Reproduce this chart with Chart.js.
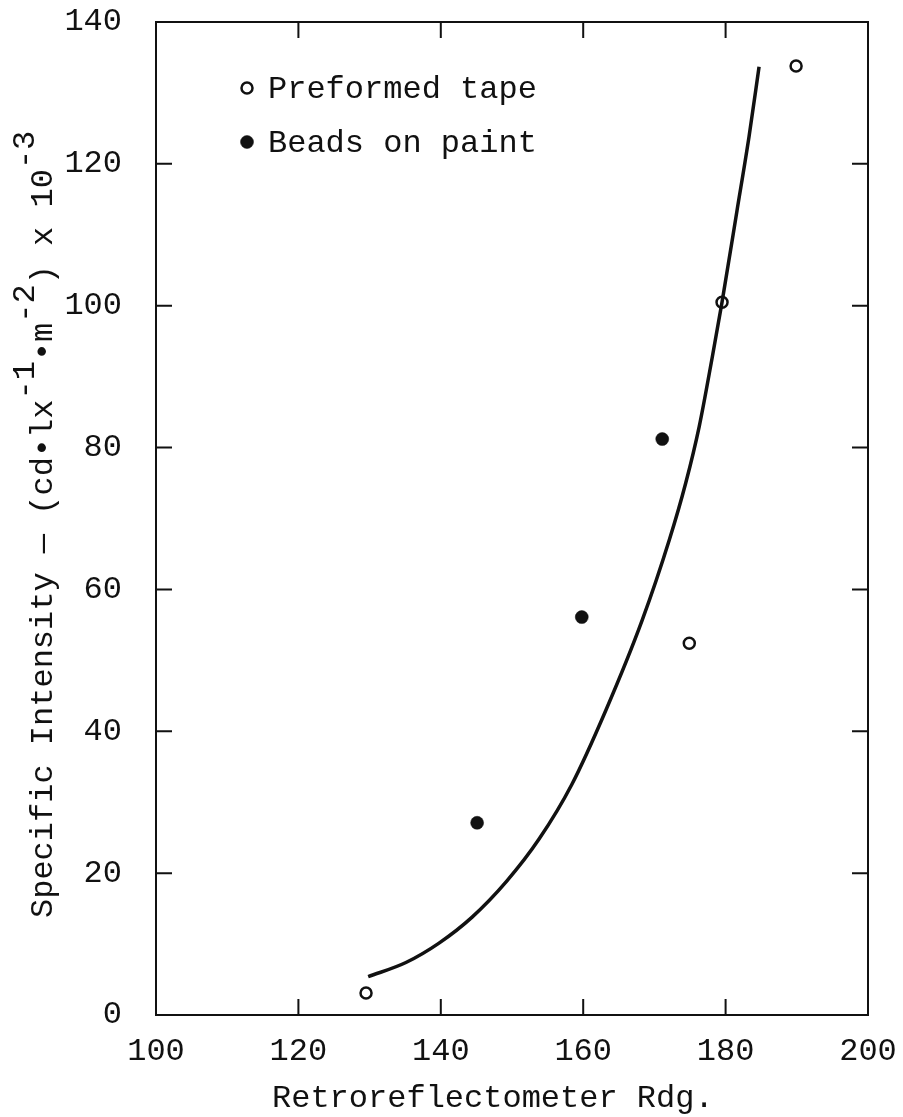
<!DOCTYPE html>
<html>
<head>
<meta charset="utf-8">
<script src="https://cdn.jsdelivr.net/npm/chart.js@4.4.1/dist/chart.umd.min.js"></script>
<style>
  body { margin: 0; background: #fff; }
  canvas { display: block; }
</style>
</head>
<body>
<canvas id="retroChart" width="903" height="1117"></canvas>
<script>
// values
var tapeX = [129.5, 174.9, 179.5, 189.9];
var tapeY = [3.1, 52.4, 100.5, 133.8];
var beadsX = [145.1, 159.8, 171.1];
var beadsY = [27.1, 56.1, 81.2];
var curveX = [129.8, 135.1, 139.7, 144.4, 149.2, 153.8, 158.4, 163.2, 168.3, 172.1, 174.4, 176.3, 178.1, 179.5, 181.6, 183.3, 184.7];
var curveY = [5.4, 7.4, 10.1, 13.8, 18.8, 24.8, 32.5, 43.0, 55.7, 67.0, 75.0, 83.0, 92.6, 100.5, 113.4, 123.9, 133.7];
var xTicks = [100, 120, 140, 160, 180, 200];
var yTicks = [0, 20, 40, 60, 80, 100, 120, 140];
var seriesNames = ["Preformed tape", "Beads on paint"];
var xTitle = "Retroreflectometer Rdg.";
// [text, isSuperscript]
var yTitleParts = [
    ["Specific Intensity \u2014 (cd\u2022lx", false], ["-1", true],
    ["\u2022m", false], ["-2", true],
    [") x 10", false], ["-3", true]
];

var FAMILY = "'Liberation Mono', 'Courier New', monospace";
var FONT = "32px " + FAMILY;
var INK = "#111";

function pairs(xs, ys) {
    return xs.map(function (x, i) { return { x: x, y: ys[i] }; });
}

// box round the plot with short inward ticks on all four sides
var framePlugin = {
    id: "frame",
    beforeDatasetsDraw: function (chart) {
        var ctx = chart.ctx, a = chart.chartArea;
        var xs = chart.scales.x, ys = chart.scales.y;
        var len = 16;
        ctx.save();
        ctx.strokeStyle = INK;
        ctx.lineWidth = 2;
        ctx.strokeRect(a.left, a.top, a.right - a.left, a.bottom - a.top);
        ctx.beginPath();
        xTicks.slice(1, -1).forEach(function (v) {
            var px = xs.getPixelForValue(v);
            ctx.moveTo(px, a.bottom); ctx.lineTo(px, a.bottom - len);
            ctx.moveTo(px, a.top); ctx.lineTo(px, a.top + len);
        });
        yTicks.slice(1, -1).forEach(function (v) {
            var py = ys.getPixelForValue(v);
            ctx.moveTo(a.left, py); ctx.lineTo(a.left + len, py);
            ctx.moveTo(a.right, py); ctx.lineTo(a.right - len, py);
        });
        ctx.stroke();
        ctx.restore();
    }
};

// axis titles (y one has raised exponents) and the boxed-in legend
var textPlugin = {
    id: "typedText",
    afterDraw: function (chart) {
        var ctx = chart.ctx;
        ctx.save();
        ctx.fillStyle = INK;
        ctx.font = FONT;
        ctx.textBaseline = "alphabetic";
        ctx.textAlign = "left";

        ctx.fillText(xTitle, 272, 1107);

        ctx.save();
        ctx.translate(52, 918);
        ctx.rotate(-Math.PI / 2);
        var pos = 0;
        yTitleParts.forEach(function (p) {
            ctx.fillText(p[0], pos, p[1] ? -18 : 0);
            pos += ctx.measureText(p[0]).width;
        });
        ctx.restore();

        var rows = [98, 152];
        chart.data.datasets.slice(1).forEach(function (ds, i) {
            var cy = rows[i] - 10;
            ctx.beginPath();
            ctx.arc(247, cy, ds.pointRadius, 0, Math.PI * 2);
            ctx.fillStyle = ds.pointBackgroundColor;
            ctx.fill();
            ctx.lineWidth = ds.pointBorderWidth;
            ctx.strokeStyle = ds.pointBorderColor;
            ctx.stroke();
            ctx.fillStyle = INK;
            ctx.fillText(ds.label, 268, rows[i]);
        });
        ctx.restore();
    }
};

var ctx = document.getElementById("retroChart").getContext("2d");
new Chart(ctx, {
    type: "scatter",
    data: {
        datasets: [
            {
                label: "fit",
                data: pairs(curveX, curveY),
                showLine: true,
                borderColor: INK,
                borderWidth: 3.5,
                cubicInterpolationMode: "monotone",
                pointRadius: 0,
                fill: false
            },
            {
                label: seriesNames[0],
                data: pairs(tapeX, tapeY),
                pointRadius: 5.5,
                pointBorderWidth: 2.5,
                pointBorderColor: INK,
                pointBackgroundColor: "#fff"
            },
            {
                label: seriesNames[1],
                data: pairs(beadsX, beadsY),
                pointRadius: 6.5,
                pointBorderWidth: 0.5,
                pointBorderColor: INK,
                pointBackgroundColor: INK
            }
        ]
    },
    options: {
        responsive: false,
        animation: false,
        layout: { padding: 0 },
        plugins: {
            legend: { display: false },
            tooltip: { enabled: false }
        },
        scales: {
            x: {
                type: "linear",
                min: 100,
                max: 200,
                grid: { display: false },
                border: { display: false },
                afterBuildTicks: function (s) { s.ticks = xTicks.map(function (v) { return { value: v }; }); },
                afterFit: function (s) {
                    s.height = 102;
                    s.paddingLeft = 0;
                    s.paddingRight = 35;
                },
                ticks: {
                    font: { family: FAMILY, size: 32 },
                    color: INK,
                    padding: 9,
                    maxRotation: 0,
                    autoSkip: false
                }
            },
            y: {
                type: "linear",
                min: 0,
                max: 140,
                grid: { display: false },
                border: { display: false },
                afterBuildTicks: function (s) { s.ticks = yTicks.map(function (v) { return { value: v }; }); },
                afterFit: function (s) {
                    s.width = 156;
                    s.paddingTop = 22;
                    s.paddingBottom = 0;
                },
                ticks: {
                    font: { family: FAMILY, size: 32 },
                    color: INK,
                    padding: 26,
                    autoSkip: false
                }
            }
        }
    },
    plugins: [framePlugin, textPlugin]
});
</script>
</body>
</html>
